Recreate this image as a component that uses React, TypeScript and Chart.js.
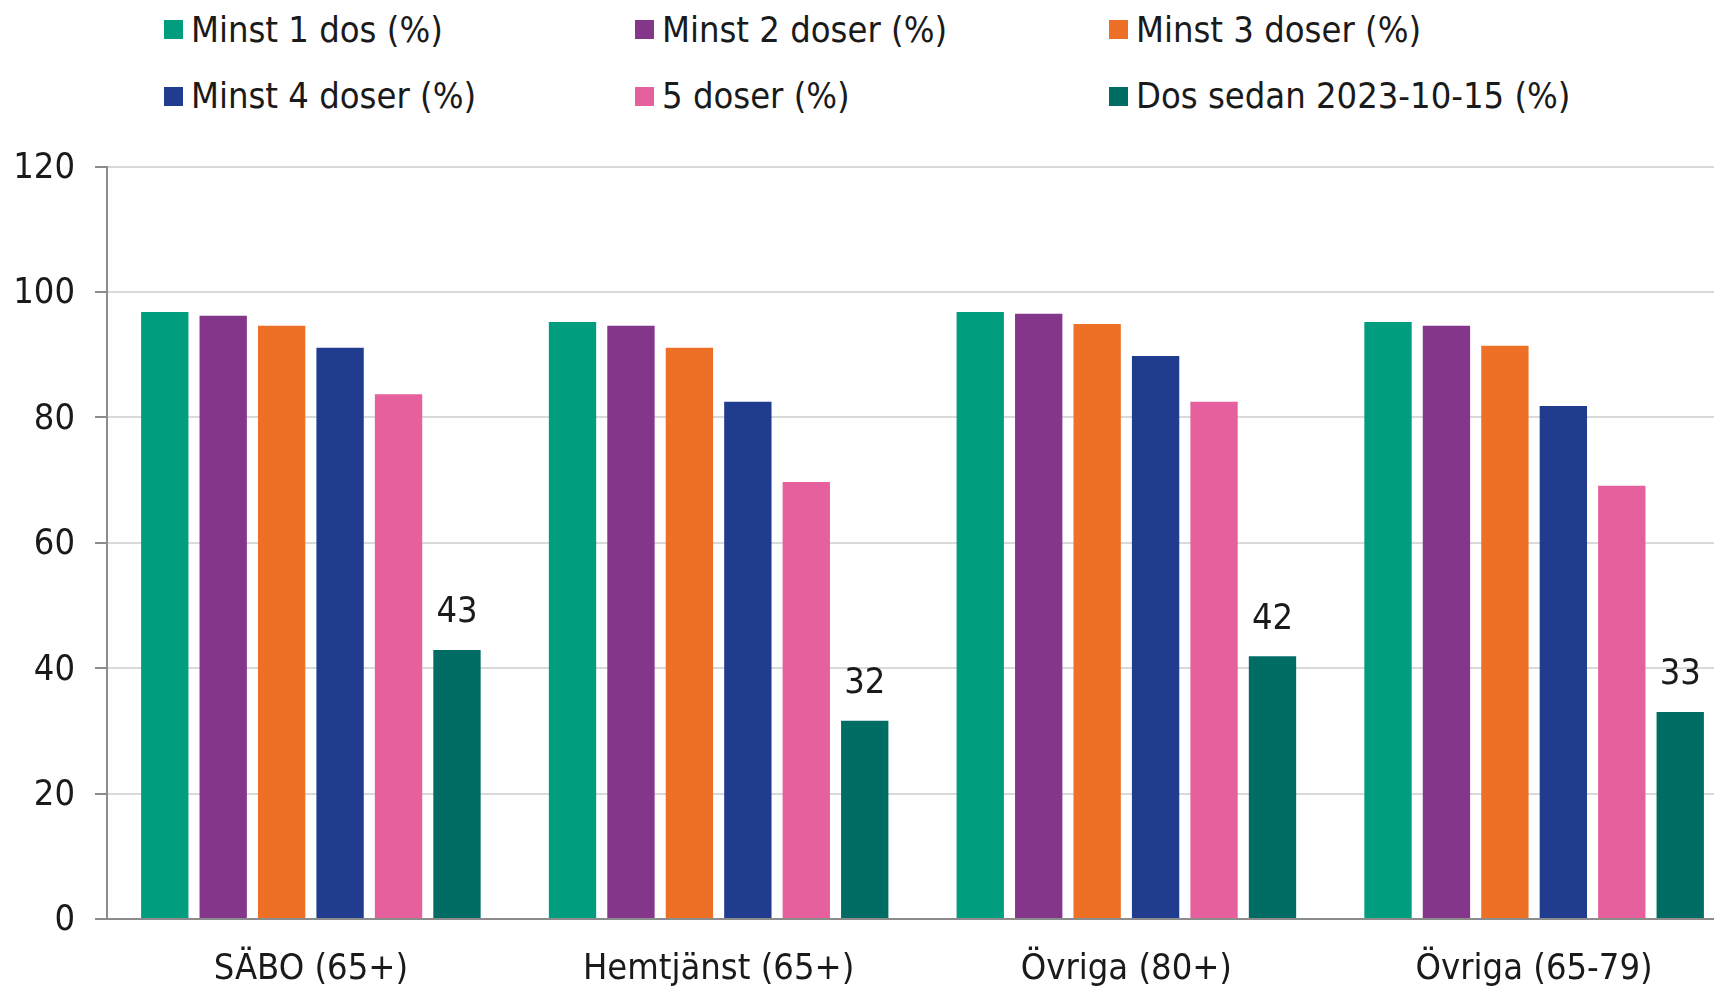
import React, { useEffect, useRef } from "react";
import { Chart, registerables } from "chart.js";

Chart.register(...registerables);

const FONT = "'DejaVu Sans Condensed', 'DejaVu Sans', sans-serif";
const TEXT = "#1a1a1a";
const FS = 36;

const categories = ["SÄBO (65+)", "Hemtjänst (65+)", "Övriga (80+)", "Övriga (65-79)"];
const seriesNames = [
  "Minst 1 dos (%)",
  "Minst 2 doser (%)",
  "Minst 3 doser (%)",
  "Minst 4 doser (%)",
  "5 doser (%)",
  "Dos sedan 2023-10-15 (%)",
];
const minst1 = [96.8, 95.2, 96.8, 95.2];
const minst2 = [96.2, 94.6, 96.5, 94.6];
const minst3 = [94.6, 91.1, 94.9, 91.4];
const minst4 = [91.1, 82.5, 89.8, 81.8];
const doser5 = [83.7, 69.7, 82.5, 69.1];
const dosSedan = [42.9, 31.6, 41.9, 33.0];
const seriesValues = [minst1, minst2, minst3, minst4, doser5, dosSedan];
const seriesColors = ["#009E7E", "#84368A", "#EE7026", "#1F3C8F", "#E6609E", "#006D65"];
const yMin = 0;
const yMax = 120;
const yStep = 20;

// legend layout: 3 columns x 2 rows
const legendCols = [164, 635, 1109];
const legendRows = [29.5, 96];

const valueLabels = {
  id: "valueLabels",
  afterDatasetsDraw(chart: any) {
    const ctx = chart.ctx;
    const di = chart.data.datasets.length - 1;
    const meta = chart.getDatasetMeta(di);
    ctx.save();
    ctx.font = `${FS}px ${FONT}`;
    ctx.fillStyle = TEXT;
    ctx.textAlign = "center";
    ctx.textBaseline = "middle";
    meta.data.forEach((el: any, i: number) => {
      const v = chart.data.datasets[di].data[i] as number;
      ctx.fillText(String(Math.round(v)), el.x, el.y - 37);
    });
    ctx.restore();
  },
};

export default function App() {
  const canvasRef = useRef<HTMLCanvasElement | null>(null);

  useEffect(() => {
    if (!canvasRef.current) return;
    const chart = new Chart(canvasRef.current, {
      type: "bar",
      data: {
        labels: categories,
        datasets: seriesNames.map((name, i) => ({
          label: name,
          data: seriesValues[i],
          backgroundColor: seriesColors[i],
          borderWidth: 0,
          categoryPercentage: 0.86,
          barPercentage: 0.81,
        })),
      },
      options: {
        responsive: true,
        maintainAspectRatio: false,
        animation: false,
        devicePixelRatio: 1,
        layout: { padding: { top: 46.5, right: 12, left: 0, bottom: 0 } },
        plugins: {
          legend: { display: false },
          tooltip: { enabled: false },
        },
        scales: {
          x: {
            grid: { display: false, drawTicks: false },
            border: { display: true, color: "#8c8c8c", width: 2 },
            ticks: { font: { family: FONT, size: FS }, color: TEXT, padding: 29 },
            afterFit: (s: any) => {
              s.height = 70;
            },
          },
          y: {
            min: yMin,
            max: yMax,
            ticks: {
              stepSize: yStep,
              font: { family: FONT, size: FS },
              color: TEXT,
              padding: 20,
              labelOffset: 2,
            },
            grid: {
              color: (c: any) => (c.tick && c.tick.value === 0 ? "#8c8c8c" : "#d9d9d9"),
              lineWidth: 2,
              tickLength: 12,
              tickColor: "#8c8c8c",
            },
            border: { color: "#8c8c8c", width: 2 },
            afterFit: (s: any) => {
              s.width = 107;
            },
          },
        },
      },
      plugins: [valueLabels],
    });
    return () => chart.destroy();
  }, []);

  return (
    <div
      style={{
        position: "fixed",
        left: 0,
        top: 0,
        width: 1714,
        height: 989,
        overflow: "hidden",
        background: "#ffffff",
        fontFamily: FONT,
      }}
    >
      {seriesNames.map((name, i) => {
        const col = i % 3;
        const row = Math.floor(i / 3);
        return (
          <div
            key={name}
            style={{
              position: "absolute",
              left: legendCols[col],
              top: legendRows[row] - 21,
              height: 42,
              display: "flex",
              alignItems: "center",
              whiteSpace: "nowrap",
            }}
          >
            <span
              style={{
                display: "inline-block",
                width: 19,
                height: 19,
                background: seriesColors[i],
                marginRight: 8,
              }}
            />
            <span style={{ fontSize: FS, lineHeight: "42px", color: TEXT }}>{name}</span>
          </div>
        );
      })}
      <div style={{ position: "absolute", left: 0, top: 120, width: 1750, height: 869 }}>
        <canvas ref={canvasRef} />
      </div>
    </div>
  );
}
